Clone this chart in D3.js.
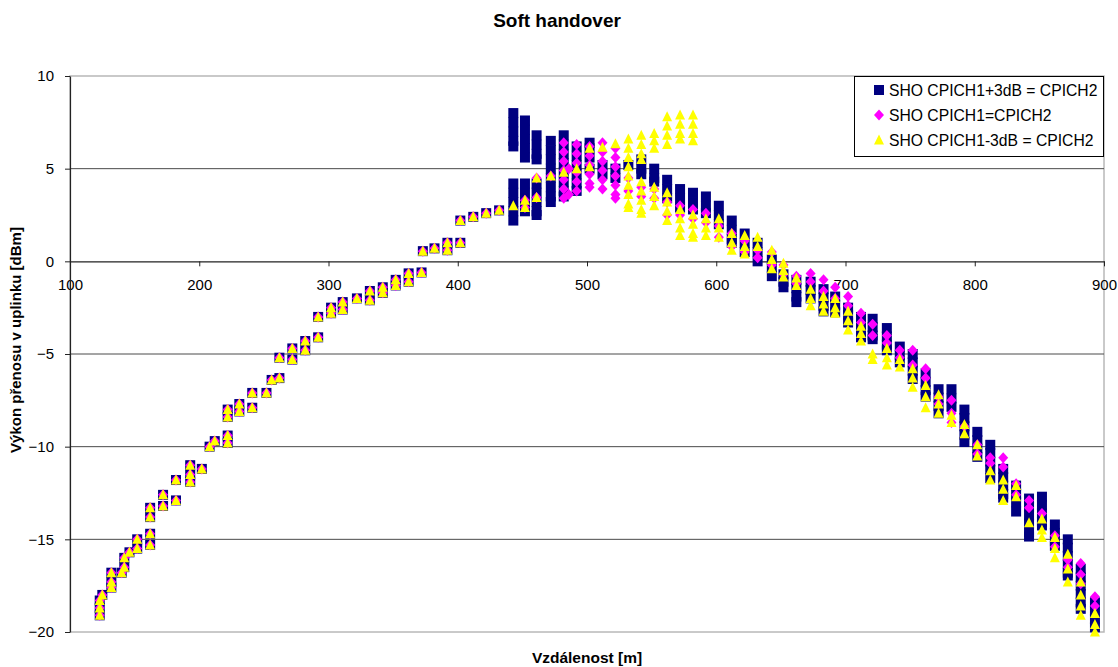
<!DOCTYPE html>
<html>
<head>
<meta charset="utf-8">
<script src="https://cdn.jsdelivr.net/npm/d3@7/dist/d3.min.js"></script>
<style>
  body { margin: 0; background: #fff; }
</style>
</head>
<body>
<svg id="canvas" width="1118" height="667"></svg>
<script>
//tick values for both axes
var xTicks = [100, 200, 300, 400, 500, 600, 700, 800, 900];
var yTicks = [-20, -15, -10, -5, 0, 5, 10];
var gridValues = [-15, -10, -5, 5];

var seriesNames = ["SHO CPICH1+3dB = CPICH2", "SHO CPICH1=CPICH2", "SHO CPICH1-3dB = CPICH2"];

//rising part, all three series lie on top of each other here
var sharedPoints = [
  [123,-18.3],[123,-18.7],[123,-19.1],[125,-18.0],
  [132,-16.8],[132,-17.3],[132,-17.6],[140,-16.8],
  [142,-16.0],[142,-16.5],[146,-15.7],[152,-15.0],[152,-15.5],
  [162,-13.3],[162,-13.8],[162,-14.7],[162,-15.3],
  [172,-12.6],[172,-13.2],[182,-11.8],[182,-12.9],
  [193,-11.0],[193,-11.5],[193,-11.9],[202,-11.2],
  [208,-10.0],[212,-9.7],
  [222,-8.0],[222,-8.4],[222,-9.4],[222,-9.8],
  [231,-7.7],[231,-8.1],[241,-7.1],[241,-7.9],[252,-7.1],
  [256,-6.4],[262,-5.2],[262,-6.3],[272,-4.7],[272,-5.3],
  [282,-4.3],[282,-4.8],[292,-3.0],[292,-4.1],
  [302,-2.5],[302,-2.8],[311,-2.2],[311,-2.6],[322,-2.0],
  [332,-1.6],[332,-2.1],[342,-1.4],[342,-1.7],
  [352,-1.0],[352,-1.3],[362,-0.65],[362,-1.1],[372,-0.6],
  [373,0.55],[382,0.7],[392,0.6],[392,1.0],
  [402,1.0],[402,2.2],[412,2.4],[422,2.6],[432,2.75]
];

//SHO CPICH1+3dB = CPICH2
var navyPoints = [
  [443,8.0],[443,7.5],[443,7.0],[443,6.5],[443,6.2],[443,4.2],[443,3.7],[443,3.2],[443,2.7],[443,2.2],
  [452,7.6],[452,7.1],[452,6.6],[452,6.1],[452,5.6],[452,4.2],[452,3.7],[452,3.2],[452,2.7],
  [461,6.8],[461,6.3],[461,5.8],[461,5.5],[461,4.2],[461,3.7],[461,3.2],[461,2.7],[461,2.5],
  [472,6.5],[472,6.0],[472,5.5],[472,5.0],[472,4.5],[472,4.0],[472,3.5],[472,3.2],
  [482,6.8],[482,6.3],[482,5.8],[482,5.3],[482,4.8],[482,4.3],[482,3.8],[482,3.5],
  [492,6.2],[492,5.7],[492,5.2],[492,4.7],[492,4.2],[492,3.8],
  [502,6.4],[502,6.1],[502,5.6],[502,5.0],[512,5.2],[512,4.7],[522,5.0],[522,4.5],
  [532,5.2],[542,5.5],[542,5.0],[542,4.7],[552,5.0],[552,4.5],[552,4.3],
  [562,4.4],[562,3.9],[562,3.4],[572,3.9],[572,3.4],[572,2.9],
  [582,3.7],[582,3.2],[582,2.8],[592,3.5],[592,3.0],[592,2.6],
  [602,3.0],[602,2.5],[602,2.0],[612,2.2],[612,1.7],[612,1.2],[612,1.0],
  [622,1.5],[622,1.0],[622,0.5],[632,1.0],[632,0.5],[632,0.0],
  [643,0.1],[643,-0.35],[643,-0.8],[652,-0.7],[652,-1.1],[652,-1.4],
  [662,-1.0],[662,-1.45],[662,-1.9],[662,-2.2],[673,-1.1],[673,-1.55],[673,-2.0],
  [683,-1.5],[683,-1.95],[683,-2.4],[683,-2.7],[692,-1.9],[692,-2.35],[692,-2.75],
  [702,-2.5],[702,-2.9],[702,-3.3],[712,-3.0],[712,-3.45],[712,-3.9],[712,-4.1],
  [721,-3.1],[721,-3.55],[721,-4.0],[721,-4.2],[732,-3.6],[732,-4.05],[732,-4.5],[732,-4.8],
  [742,-4.6],[742,-5.05],[742,-5.45],[752,-5.0],[752,-5.45],[752,-5.9],[752,-6.35],
  [762,-6.05],[762,-6.5],[762,-6.95],[762,-7.3],[772,-6.9],[772,-7.35],[772,-7.8],[772,-8.2],
  [782,-6.9],[782,-7.4],[782,-7.85],[792,-8.0],[792,-8.45],[792,-8.9],[792,-9.35],[792,-9.75],
  [802,-9.2],[802,-9.65],[802,-10.1],[802,-10.55],
  [812,-9.9],[812,-10.35],[812,-10.8],[812,-11.25],[812,-11.7],
  [822,-11.2],[822,-11.65],[822,-12.1],[822,-12.55],[822,-12.75],
  [832,-12.1],[832,-12.55],[832,-13.0],[832,-13.5],
  [842,-12.8],[842,-13.25],[842,-13.7],[842,-14.15],[842,-14.6],[842,-14.85],
  [852,-12.7],[852,-13.15],[852,-13.6],[852,-14.05],[852,-14.25],
  [862,-14.2],[862,-14.65],[862,-15.1],[862,-15.35],
  [872,-15.0],[872,-15.45],[872,-15.9],[872,-16.35],[872,-16.8],[872,-16.95],
  [882,-16.6],[882,-17.05],[882,-17.5],[882,-17.95],[882,-18.4],[882,-18.75],
  [893,-18.4],[893,-18.85],[893,-19.3],[893,-19.75]
];

//SHO CPICH1=CPICH2
var magentaPoints = [
  [452,3.3],[452,2.9],[461,4.5],[461,3.45],[472,4.6],
  [482,6.4],[482,5.9],[482,5.4],[482,4.9],[482,4.4],[482,3.9],[482,3.4],[486,3.6],[486,5.0],
  [492,6.3],[492,5.8],[492,5.3],[492,4.8],[492,4.3],[492,3.8],
  [502,6.2],[502,5.7],[502,5.2],[502,4.7],[502,4.2],[502,4.0],
  [512,6.4],[512,5.9],[512,5.4],[512,4.9],[512,4.4],[512,3.9],
  [522,6.1],[522,5.6],[522,5.1],[522,4.6],[522,4.1],[522,3.6],[522,3.4],
  [532,4.5],[532,3.8],[542,4.0],[542,3.5],[552,3.9],[552,3.4],
  [562,3.2],[562,2.5],[572,3.0],[572,2.5],[582,2.8],[582,2.3],
  [592,2.6],[592,2.1],[602,1.9],[602,1.3],[612,1.5],[612,0.8],
  [622,1.1],[622,0.5],[632,0.6],[632,0.2],[643,0.5],[643,-0.2],
  [652,-0.2],[652,-0.7],[662,-0.8],[662,-1.2],[673,-0.65],[673,-1.1],
  [683,-1.0],[683,-1.6],[692,-1.4],[692,-2.0],[702,-1.9],[702,-2.4],
  [712,-2.8],[712,-3.3],[721,-3.4],[721,-4.0],[732,-4.0],[732,-4.4],
  [742,-4.8],[742,-5.2],[752,-4.8],[752,-5.6],[762,-5.8],[762,-6.3],
  [772,-7.3],[772,-7.7],[782,-7.5],[782,-8.2],[782,-8.7],[792,-8.9],
  [802,-9.9],[802,-10.4],[812,-10.6],[812,-10.9],[822,-10.6],[822,-11.1],
  [832,-12.0],[832,-12.6],[842,-12.9],[842,-13.3],[852,-13.6],
  [862,-14.8],[862,-15.4],[872,-16.1],[872,-16.5],
  [882,-16.3],[882,-16.9],[882,-17.4],[893,-18.1],[893,-18.6]
];

//SHO CPICH1-3dB = CPICH2
var yellowPoints = [
  [443,3.0],[452,3.3],[452,2.9],[461,4.5],[461,3.45],[472,4.6],[482,4.8],[492,5.0],
  [502,6.1],[502,5.1],[512,6.15],[522,6.35],
  [532,6.6],[532,6.1],[532,5.6],[532,5.1],[532,4.6],[532,4.1],[532,3.6],[532,3.1],[532,2.9],
  [542,6.8],[542,6.3],[542,5.8],[542,5.5],[542,4.3],[542,3.8],[542,3.3],[542,2.8],[542,2.6],
  [552,6.9],[552,6.5],[552,6.1],[552,4.0],[552,3.5],[552,3.0],
  [562,7.8],[562,7.3],[562,6.8],[562,6.3],[562,3.7],[562,3.2],[562,2.7],[562,2.2],
  [572,7.9],[572,7.4],[572,6.9],[572,6.6],[572,2.8],[572,2.3],[572,1.8],[572,1.4],
  [582,7.9],[582,7.4],[582,6.9],[582,6.5],[582,2.5],[582,2.0],[582,1.5],[582,1.3],
  [592,2.3],[592,1.8],[592,1.4],[602,2.3],[602,1.8],[602,1.3],
  [612,1.5],[612,1.0],[612,0.6],[622,1.4],[622,0.8],[622,0.4],
  [632,1.3],[632,0.8],[643,0.6],[643,0.1],[643,-0.4],
  [652,-0.1],[652,-0.5],[652,-0.85],[662,-0.9],[662,-1.3],
  [673,-1.5],[673,-2.0],[673,-2.4],[683,-1.9],[683,-2.3],[683,-2.7],
  [692,-2.0],[692,-2.5],[692,-2.8],[702,-2.7],[702,-3.2],[702,-3.7],
  [712,-3.5],[712,-3.9],[712,-4.3],[721,-5.0],[721,-5.3],
  [732,-4.7],[732,-5.2],[732,-5.6],[742,-5.3],[742,-5.7],
  [752,-5.8],[752,-6.3],[752,-6.8],[762,-6.7],[762,-7.3],[762,-7.9],
  [772,-7.2],[772,-7.7],[772,-8.2],[782,-8.3],[782,-8.7],
  [792,-8.8],[792,-9.3],[802,-9.9],[802,-10.5],[812,-11.3],[812,-11.8],
  [822,-11.8],[822,-12.3],[822,-12.9],[832,-12.1],[832,-12.7],[842,-14.1],
  [852,-13.9],[852,-14.5],[852,-14.9],[862,-14.9],[862,-15.5],[862,-16.0],
  [872,-15.8],[872,-16.6],[872,-17.3],
  [882,-17.3],[882,-18.0],[882,-18.6],[882,-19.1],[893,-19.0],[893,-19.6],[893,-20.0]
];

var colors = ["#000080", "#ff00ff", "#ffff00"];
var font = "'Liberation Sans', Arial, sans-serif";

//get svg object from page
var svg = d3.select("#canvas");

//plot area (window.top is taken, so prefixed names)
var plotLeft = 70, plotRight = 1104, plotTop = 76, plotBottom = 632;

var xScale = d3.scaleLinear()
  .domain([100, 900])
  .range([plotLeft, plotRight]);

var yScale = d3.scaleLinear()
  .domain([-20, 10])
  .range([plotBottom, plotTop]);

//grey border of the plot area
svg.append("rect")
  .attr("x", plotLeft)
  .attr("y", plotTop)
  .attr("width", plotRight - plotLeft)
  .attr("height", plotBottom - plotTop)
  .style("fill", "none")
  .style("stroke", "#b8b8b8")
  .style("stroke-width", 1.5);

//horizontal gridlines
svg.selectAll("line.grid")
  .data(gridValues)
  .enter().append("line")
  .attr("class", "grid")
  .attr("x1", plotLeft)
  .attr("x2", plotRight)
  .attr("y1", function(d) { return yScale(d); })
  .attr("y2", function(d) { return yScale(d); })
  .style("stroke", "#4a4a4a")
  .style("stroke-width", 1);

//x axis crosses at y = 0
var xAxis = d3.axisBottom(xScale)
  .tickValues(xTicks)
  .tickSize(5)
  .tickSizeOuter(0)
  .tickPadding(13);

var gx = svg.append("g")
  .attr("transform", "translate(0," + yScale(0) + ")")
  .call(xAxis);

var yAxis = d3.axisLeft(yScale)
  .tickValues(yTicks)
  .tickSize(5)
  .tickSizeOuter(0)
  .tickPadding(11);

var gy = svg.append("g")
  .attr("transform", "translate(" + plotLeft + ",0)")
  .call(yAxis);

[gx, gy].forEach(function(g) {
  g.select(".domain").style("stroke", "#222").style("stroke-width", 1.2);
  g.selectAll(".tick line").style("stroke", "#222");
  g.selectAll(".tick text")
    .style("font-family", font)
    .style("font-size", "15px")
    .style("fill", "#000");
});

//markers, one drawing function per series
var symbols = [
  function(sel) {
    sel.append("rect")
      .attr("x", function(d) { return xScale(d[0]) - 5; })
      .attr("y", function(d) { return yScale(d[1]) - 5; })
      .attr("width", 10)
      .attr("height", 10);
  },
  function(sel) {
    sel.append("path")
      .attr("d", function(d) {
        var cx = xScale(d[0]), cy = yScale(d[1]);
        return "M" + cx + "," + (cy - 5.5) + "L" + (cx + 5) + "," + cy +
          "L" + cx + "," + (cy + 5.5) + "L" + (cx - 5) + "," + cy + "Z";
      });
  },
  function(sel) {
    sel.append("path")
      .attr("d", function(d) {
        var cx = xScale(d[0]), cy = yScale(d[1]);
        return "M" + cx + "," + (cy - 5.5) + "L" + (cx + 5) + "," + (cy + 4.5) +
          "L" + (cx - 5) + "," + (cy + 4.5) + "Z";
      });
  }
];

var seriesData = [
  sharedPoints.concat(navyPoints),
  sharedPoints.concat(magentaPoints),
  sharedPoints.concat(yellowPoints)
];

seriesData.forEach(function(pts, i) {
  var sel = svg.append("g")
    .style("fill", colors[i])
    .selectAll("g.pt")
    .data(pts)
    .enter();
  symbols[i](sel);
});

//legend
var legend = svg.append("g");

legend.append("rect")
  .attr("x", 854.5)
  .attr("y", 76.5)
  .attr("width", 249)
  .attr("height", 80)
  .style("fill", "#fff")
  .style("stroke", "#000")
  .style("stroke-width", 1);

seriesNames.forEach(function(name, i) {
  var row = legend.append("g")
    .attr("transform", "translate(0," + (i * 25) + ")");
  var pt = [[xScale.invert(879), yScale.invert(90)]];
  symbols[i](row.append("g").style("fill", colors[i]).selectAll("g").data(pt).enter());
  row.append("text")
    .attr("x", 889)
    .attr("y", 95.5)
    .style("font-family", font)
    .style("font-size", "15.7px")
    .text(name);
});

//title and axis titles
svg.append("text")
  .attr("x", 557)
  .attr("y", 27)
  .attr("text-anchor", "middle")
  .style("font-family", font)
  .style("font-size", "19px")
  .style("font-weight", "bold")
  .text("Soft handover");

svg.append("text")
  .attr("x", 587)
  .attr("y", 663)
  .attr("text-anchor", "middle")
  .style("font-family", font)
  .style("font-size", "15.5px")
  .style("font-weight", "bold")
  .text("Vzdálenost [m]");

svg.append("text")
  .attr("transform", "translate(21,340) rotate(-90)")
  .attr("text-anchor", "middle")
  .style("font-family", font)
  .style("font-size", "15px")
  .style("font-weight", "bold")
  .text("Výkon přenosu v uplinku [dBm]");
</script>
</body>
</html>
